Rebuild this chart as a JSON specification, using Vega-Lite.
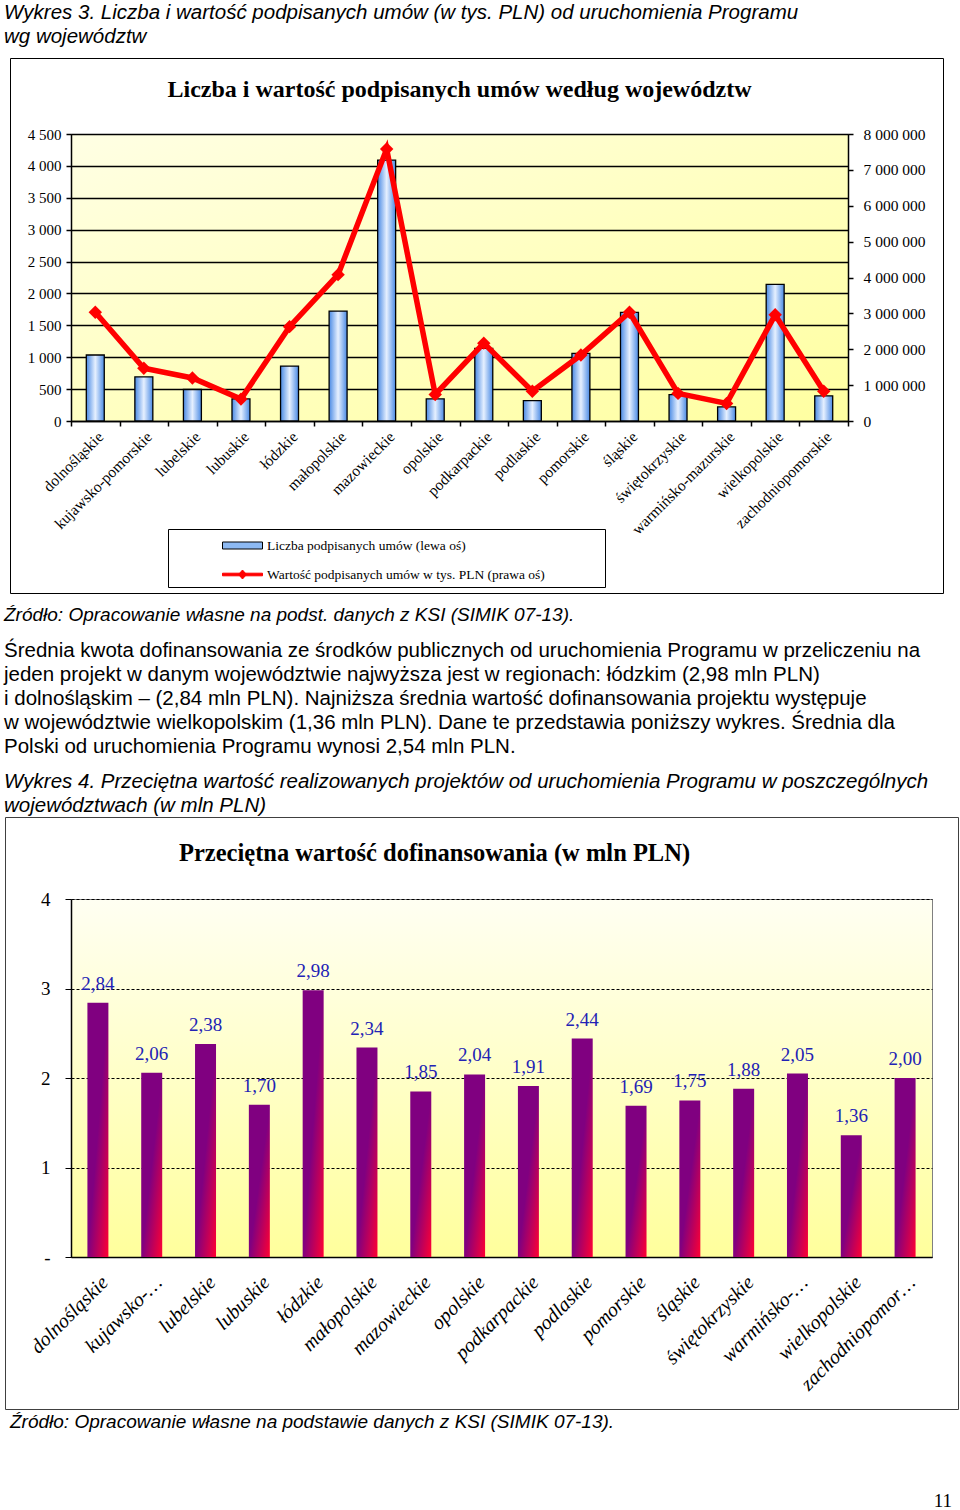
{
  "$schema": "https://vega.github.io/schema/vega-lite/v6.json",
  "background": "white",
  "padding": {"left": 4, "top": 2, "right": 4, "bottom": 0},
  "config": {
    "locale": {"number": {"decimal": ",", "thousands": " ", "grouping": [3], "currency": ["", " zł"]}},
    "font": "Liberation Serif",
    "view": {"stroke": null},
    "axis": {"labelFont": "Liberation Serif", "labelColor": "black", "domainColor": "black", "tickColor": "black"},
    "title": {"color": "black", "subtitleColor": "black"}
  },
  "title": {
    "text": ["Wykres 3. Liczba i wartość podpisanych umów (w tys. PLN) od uruchomienia Programu", "wg województw"],
    "anchor": "start",
    "frame": "bounds",
    "font": "Liberation Sans",
    "fontSize": 20.5,
    "fontStyle": "italic",
    "fontWeight": "normal",
    "lineHeight": 24,
    "offset": 10
  },
  "columns": 1,
  "spacing": 0,
  "resolve": {"scale": {"color": "independent"}, "legend": {"color": "independent"}},
  "concat": [
    {
      "width": 777,
      "height": 287,
      "view": {
        "stroke": "black",
        "fill": {"gradient": "linear", "x1": 0, "y1": 0, "x2": 1, "y2": 1, "stops": [{"offset": 0, "color": "#FFFFE4"}, {"offset": 1, "color": "#FFFFA0"}]}
      },
      "title": {"text": "Liczba i wartość podpisanych umów według województw", "font": "Liberation Serif", "fontSize": 24, "fontWeight": "bold", "anchor": "middle", "offset": -44},
      "data": {
        "values": [
          {"wojewodztwo": "dolnośląskie", "liczba": 1035, "wartosc": 3030000},
          {"wojewodztwo": "kujawsko-pomorskie", "liczba": 693, "wartosc": 1470000},
          {"wojewodztwo": "lubelskie", "liczba": 494, "wartosc": 1200000},
          {"wojewodztwo": "lubuskie", "liczba": 347, "wartosc": 610000},
          {"wojewodztwo": "łódzkie", "liczba": 861, "wartosc": 2630000},
          {"wojewodztwo": "małopolskie", "liczba": 1723, "wartosc": 4080000},
          {"wojewodztwo": "mazowieckie", "liczba": 4091, "wartosc": 7580000},
          {"wojewodztwo": "opolskie", "liczba": 347, "wartosc": 740000},
          {"wojewodztwo": "podkarpackie", "liczba": 1140, "wartosc": 2170000},
          {"wojewodztwo": "podlaskie", "liczba": 320, "wartosc": 830000},
          {"wojewodztwo": "pomorskie", "liczba": 1061, "wartosc": 1840000},
          {"wojewodztwo": "śląskie", "liczba": 1702, "wartosc": 3030000},
          {"wojewodztwo": "świętokrzyskie", "liczba": 415, "wartosc": 770000},
          {"wojewodztwo": "warmińsko-mazurskie", "liczba": 221, "wartosc": 490000},
          {"wojewodztwo": "wielkopolskie", "liczba": 2143, "wartosc": 2960000},
          {"wojewodztwo": "zachodniopomorskie", "liczba": 394, "wartosc": 830000}
        ]
      },
      "encoding": {
        "x": {
          "field": "wojewodztwo",
          "type": "nominal",
          "sort": null,
          "scale": {"paddingInner": 0, "paddingOuter": 0},
          "axis": {"title": ".", "titleColor": "white", "titleFontSize": 8, "titlePadding": 0, "minExtent": 175, "maxExtent": 175, "labelAngle": -45, "labelFontSize": 15.5, "tickBand": "extent", "tickSize": 5, "tickWidth": 1.5, "domainWidth": 1.5, "labelPadding": 3}
        }
      },
      "layer": [
        {
          "mark": {
            "type": "bar",
            "width": {"band": 0.37},
            "strokeWidth": 1.3,
            "fill": {"gradient": "linear", "x1": 0, "y1": 0, "x2": 1, "y2": 0, "stops": [{"offset": 0, "color": "#4A8AE4"}, {"offset": 0.5, "color": "#E6F0FF"}, {"offset": 1, "color": "#4A8AE4"}]}
          },
          "encoding": {
            "y": {
              "field": "liczba",
              "type": "quantitative",
              "scale": {"domain": [0, 4500]},
              "axis": {"title": null, "values": [0, 500, 1000, 1500, 2000, 2500, 3000, 3500, 4000, 4500], "format": ",d", "grid": true, "gridColor": "black", "gridOpacity": 1, "gridWidth": 1.5, "domainWidth": 1.5, "labelFontSize": 15, "tickSize": 5, "tickWidth": 1.5, "labelPadding": 5, "minExtent": 60, "labelOverlap": false}
            },
            "stroke": {
              "datum": "Liczba podpisanych umów (lewa oś)",
              "scale": {"domain": ["Liczba podpisanych umów (lewa oś)", "Wartość podpisanych umów w tys. PLN  (prawa oś)"], "range": ["black", "red"]},
              "legend": {"orient": "none", "legendX": 97, "legendY": 395, "direction": "vertical", "title": ".", "titleColor": "white", "titleOrient": "right", "titlePadding": 49, "titleFontSize": 6, "strokeColor": "black", "fillColor": "white", "padding": 6, "labelFont": "Liberation Serif", "labelFontSize": 13.5, "labelLimit": 700, "symbolSize": 400, "symbolOffset": 58, "labelOffset": 14, "rowPadding": 12, "symbolOpacity": 1, "symbolStrokeWidth": 1}
            }
          }
        },
        {
          "encoding": {
            "y": {
              "field": "wartosc",
              "type": "quantitative",
              "scale": {"domain": [0, 8000000]},
              "axis": {"orient": "right", "title": null, "values": [0, 1000000, 2000000, 3000000, 4000000, 5000000, 6000000, 7000000, 8000000], "format": ",d", "grid": false, "labelFontSize": 15.5, "tickSize": 5, "tickWidth": 1.5, "domainWidth": 1.5, "labelPadding": 10, "labelOverlap": false}
            }
          },
          "layer": [
            {
              "mark": {"type": "line", "strokeWidth": 5.5},
              "encoding": {"stroke": {"datum": "Wartość podpisanych umów w tys. PLN  (prawa oś)"}}
            },
            {
              "mark": {"type": "point", "shape": "diamond", "filled": true, "color": "red", "size": 180, "opacity": 1}
            },
            {
              "mark": {"type": "point", "opacity": 0},
              "encoding": {
                "shape": {
                  "datum": "Wartość podpisanych umów w tys. PLN  (prawa oś)",
                  "scale": {"domain": ["Liczba podpisanych umów (lewa oś)", "Wartość podpisanych umów w tys. PLN  (prawa oś)"], "range": ["M-2,-0.35H2V0.35H-2Z", "M-2,-0.13H2V0.13H-2Z M0,-0.45L0.4,0L0,0.45L-0.4,0Z"]},
                  "legend": {"orient": "none", "legendX": 97, "legendY": 395, "direction": "vertical", "title": ".", "titleColor": "white", "titleOrient": "right", "titlePadding": 49, "titleFontSize": 6, "strokeColor": "black", "fillColor": "white", "padding": 6, "labelFont": "Liberation Serif", "labelFontSize": 13.5, "labelLimit": 700, "symbolSize": 400, "symbolOffset": 58, "labelOffset": 14, "rowPadding": 12, "symbolOpacity": 1, "symbolStrokeWidth": 1}
                },
                "fill": {
                  "datum": "Wartość podpisanych umów w tys. PLN  (prawa oś)",
                  "scale": {"domain": ["Liczba podpisanych umów (lewa oś)", "Wartość podpisanych umów w tys. PLN  (prawa oś)"], "range": ["#8DB9F2", "red"]},
                  "legend": {"orient": "none", "legendX": 97, "legendY": 395, "direction": "vertical", "title": ".", "titleColor": "white", "titleOrient": "right", "titlePadding": 49, "titleFontSize": 6, "strokeColor": "black", "fillColor": "white", "padding": 6, "labelFont": "Liberation Serif", "labelFontSize": 13.5, "labelLimit": 700, "symbolSize": 400, "symbolOffset": 58, "labelOffset": 14, "rowPadding": 12, "symbolOpacity": 1, "symbolStrokeWidth": 1}
                }
              }
            },
            {
              "mark": {"type": "point", "opacity": 0},
              "encoding": {
                "color": {
                  "datum": 1,
                  "type": "quantitative",
                  "scale": {"domain": [0, 1], "range": ["white", "white"]},
                  "legend": {"orient": "none", "legendX": -61, "legendY": -76, "direction": "vertical", "title": null, "gradientLength": 535, "gradientThickness": 931, "gradientOpacity": 0, "gradientStrokeWidth": 0, "labelOpacity": 0, "labelFontSize": 1, "labelOffset": 0, "padding": 0, "strokeColor": "black", "values": [0, 1]}
                }
              }
            }
          ]
        }
      ],
      "resolve": {"scale": {"y": "independent"}}
    },
    {
      "width": 881,
      "height": 1,
      "data": {"values": []},
      "mark": "text",
      "title": {
        "text": "Źródło: Opracowanie własne na podst. danych z KSI (SIMIK 07-13).",
        "subtitle": [
          "Średnia kwota dofinansowania ze środków publicznych od uruchomienia Programu w przeliczeniu na",
          "jeden projekt w danym województwie najwyższa jest w regionach: łódzkim (2,98 mln PLN)",
          "i dolnośląskim – (2,84 mln PLN). Najniższa średnia wartość dofinansowania projektu występuje",
          "w województwie wielkopolskim (1,36 mln PLN). Dane te przedstawia poniższy wykres. Średnia dla",
          "Polski od uruchomienia Programu wynosi 2,54 mln PLN."
        ],
        "anchor": "start",
        "frame": "group",
        "dx": -67,
        "font": "Liberation Sans",
        "fontSize": 19,
        "fontStyle": "italic",
        "fontWeight": "normal",
        "subtitleFont": "Liberation Sans",
        "subtitleFontSize": 20.5,
        "subtitleLineHeight": 24,
        "subtitlePadding": 16,
        "offset": 13
      }
    },
    {
      "width": 881,
      "height": 1,
      "data": {"values": []},
      "mark": "text",
      "title": {
        "text": ["Wykres 4. Przeciętna wartość realizowanych projektów od uruchomienia Programu w poszczególnych", "województwach (w mln PLN)"],
        "anchor": "start",
        "frame": "group",
        "dx": -67,
        "font": "Liberation Sans",
        "fontSize": 20.5,
        "fontStyle": "italic",
        "fontWeight": "normal",
        "lineHeight": 24,
        "offset": -1
      }
    },
    {
      "width": 861,
      "height": 358,
      "view": {
        "stroke": "#808080",
        "fill": {"gradient": "linear", "x1": 0, "y1": 0, "x2": 0, "y2": 1, "stops": [{"offset": 0, "color": "#FFFFF2"}, {"offset": 1, "color": "#FFFF9C"}]}
      },
      "title": {"text": "Przeciętna wartość dofinansowania (w mln PLN)", "font": "Liberation Serif", "fontSize": 24.5, "fontWeight": "bold", "anchor": "start", "frame": "group", "dx": 108, "offset": -50},
      "data": {
        "values": [
          {"wojewodztwo": "dolnośląskie", "srednia": 2.84},
          {"wojewodztwo": "kujawsko-pomorskie", "srednia": 2.06},
          {"wojewodztwo": "lubelskie", "srednia": 2.38},
          {"wojewodztwo": "lubuskie", "srednia": 1.70},
          {"wojewodztwo": "łódzkie", "srednia": 2.98},
          {"wojewodztwo": "małopolskie", "srednia": 2.34},
          {"wojewodztwo": "mazowieckie", "srednia": 1.85},
          {"wojewodztwo": "opolskie", "srednia": 2.04},
          {"wojewodztwo": "podkarpackie", "srednia": 1.91},
          {"wojewodztwo": "podlaskie", "srednia": 2.44},
          {"wojewodztwo": "pomorskie", "srednia": 1.69},
          {"wojewodztwo": "śląskie", "srednia": 1.75},
          {"wojewodztwo": "świętokrzyskie", "srednia": 1.88},
          {"wojewodztwo": "warmińsko-mazurskie", "srednia": 2.05},
          {"wojewodztwo": "wielkopolskie", "srednia": 1.36},
          {"wojewodztwo": "zachodniopomorskie", "srednia": 2.00}
        ]
      },
      "encoding": {
        "x": {
          "field": "wojewodztwo",
          "type": "nominal",
          "sort": null,
          "scale": {"paddingInner": 0, "paddingOuter": 0},
          "axis": {
            "title": ".",
            "titleColor": "white",
            "titleFontSize": 8,
            "titlePadding": 0,
            "minExtent": 147,
            "maxExtent": 147,
            "labelAngle": -45,
            "labelFontSize": 20,
            "labelFontStyle": "italic",
            "ticks": false,
            "labelPadding": 15,
            "labelLimit": 300,
            "domainWidth": 1.5,
            "labelExpr": "indexof(datum.label, '-') > 0 ? slice(datum.label, 0, indexof(datum.label, '-') + 1) + '…' : (length(datum.label) > 15 ? slice(datum.label, 0, 14) + '…' : datum.label)"
          }
        },
        "y": {
          "field": "srednia",
          "type": "quantitative",
          "scale": {"domain": [0, 4]},
          "axis": {"title": null, "values": [0, 1, 2, 3, 4], "labelExpr": "datum.value === 0 ? '-' : datum.label", "labelFontSize": 19, "grid": true, "gridDash": [3, 2], "gridColor": "black", "gridOpacity": 1, "tickSize": 6, "domainWidth": 1.5, "labelPadding": 15, "minExtent": 66}
        }
      },
      "layer": [
        {
          "mark": {
            "type": "bar",
            "width": {"band": 0.39},
            "fill": {"gradient": "linear", "x1": 0, "y1": 0, "x2": 1, "y2": 1, "stops": [{"offset": 0, "color": "#800080"}, {"offset": 0.5, "color": "#800080"}, {"offset": 1, "color": "#FF0033"}]}
          }
        },
        {
          "mark": {"type": "text", "baseline": "bottom", "dy": -9, "fontSize": 19, "font": "Liberation Serif", "color": "#2222B5"},
          "encoding": {"text": {"field": "srednia", "type": "quantitative", "format": ".2f"}}
        },
        {
          "mark": {"type": "point", "opacity": 0},
          "encoding": {
            "color": {
              "datum": 1,
              "type": "quantitative",
              "scale": {"domain": [0, 1], "range": ["white", "white"]},
              "legend": {"orient": "none", "legendX": -66, "legendY": -82, "direction": "vertical", "title": null, "gradientLength": 592, "gradientThickness": 951, "gradientOpacity": 0, "gradientStrokeWidth": 0, "labelOpacity": 0, "labelFontSize": 1, "labelOffset": 0, "padding": 0, "strokeColor": "#404040", "values": [0, 1]}
            }
          }
        }
      ]
    },
    {
      "width": 881,
      "height": 58,
      "data": {"values": []},
      "mark": "text",
      "title": {
        "text": "Źródło: Opracowanie własne na podstawie  danych z KSI (SIMIK 07-13).",
        "anchor": "start",
        "frame": "group",
        "dx": -61,
        "font": "Liberation Sans",
        "fontSize": 19,
        "fontStyle": "italic",
        "fontWeight": "normal",
        "offset": 2
      }
    },
    {
      "width": 881,
      "height": 1,
      "data": {"values": []},
      "mark": "text",
      "title": {"text": "11", "anchor": "end", "frame": "group", "font": "Liberation Serif", "fontSize": 19, "fontWeight": "normal", "offset": 2}
    }
  ]
}
